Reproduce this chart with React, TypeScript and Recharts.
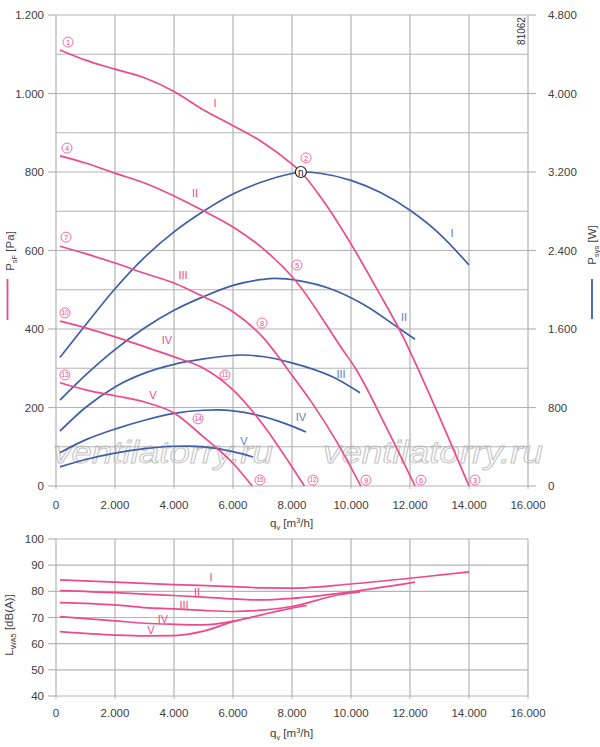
import React from 'react';
import { LineChart, Line, XAxis, YAxis, CartesianGrid, ReferenceDot } from 'recharts';

// axes
const qTicks = [0, 2000, 4000, 6000, 8000, 10000, 12000, 14000, 16000];
const qGrid = [0, 1000, 2000, 3000, 4000, 5000, 6000, 7000, 8000, 9000, 10000, 11000, 12000, 13000, 14000, 15000, 16000];
const pTicks = [0, 200, 400, 600, 800, 1000, 1200];
const pGrid = [0, 100, 200, 300, 400, 500, 600, 700, 800, 900, 1000, 1100, 1200];
const wTicks = [0, 800, 1600, 2400, 3200, 4000, 4800];
const lTicks = [40, 50, 60, 70, 80, 90, 100];

// static pressure psF [Pa]
const qPsf1 = [135, 1000, 2000, 3000, 4000, 5000, 6000, 7000, 8000, 8300, 9000, 10100, 10900, 11650, 12850, 14000];
const psf1 = [1111, 1085, 1062, 1040, 1005, 958, 918, 876, 820, 800, 733, 604, 499, 397, 201, 0];
const qPsf2 = [135, 1000, 2000, 3000, 4000, 5000, 6000, 7000, 8100, 9730, 10150, 11180, 12170];
const psf2 = [841, 823, 797, 772, 739, 701, 660, 606, 525, 346, 300, 152, 0];
const qPsf3 = [135, 1000, 2000, 3000, 4000, 5000, 6000, 7000, 8000, 8650, 9530, 10330];
const psf3 = [611, 592, 568, 542, 517, 482, 444, 380, 282, 215, 111, 0];
const qPsf4 = [135, 1000, 2000, 3000, 4000, 5000, 6000, 7000, 7900, 8420];
const psf4 = [420, 403, 380, 355, 329, 300, 245, 158, 60, 0];
const qPsf5 = [135, 1000, 2000, 3000, 4000, 5000, 6000, 6650];
const psf5 = [263, 245, 230, 214, 186, 125, 58, 0];

// power Psys [W]
const qPsys1 = [135, 1000, 2000, 3000, 4000, 5000, 6000, 7000, 8000, 8300, 9000, 10000, 11000, 12000, 13000, 14000];
const psys1 = [1310, 1640, 2010, 2330, 2590, 2800, 2975, 3100, 3185, 3200, 3185, 3115, 2990, 2810, 2570, 2252];
const qPsys2 = [135, 1000, 2000, 3000, 4000, 5000, 6000, 7000, 7400, 8270, 9390, 10540, 11660, 12170];
const psys2 = [876, 1130, 1390, 1610, 1790, 1930, 2045, 2105, 2115, 2090, 2000, 1830, 1600, 1495];
const qPsys3 = [135, 1000, 2000, 3000, 4000, 5000, 6000, 6300, 7000, 8000, 9390, 10305];
const psys3 = [560, 800, 1010, 1150, 1240, 1295, 1330, 1335, 1320, 1255, 1110, 950];
const qPsys4 = [135, 1000, 2000, 3000, 4000, 5000, 5500, 6000, 7000, 8000, 8475];
const psys4 = [340, 470, 580, 670, 740, 772, 775, 765, 710, 610, 550];
const qPsys5 = [135, 1000, 2000, 3000, 4000, 4500, 5000, 6000, 6678];
const psys5 = [195, 270, 335, 380, 405, 407, 398, 350, 296];

// sound power LWA5 [dB(A)]
const qL1 = [135, 2000, 4000, 6000, 7000, 8000, 10000, 12000, 14000];
const l1 = [84.4, 83.5, 82.6, 81.8, 81.3, 81.2, 82.8, 85.0, 87.4];
const qL2 = [135, 2000, 3000, 4000, 5000, 6000, 7000, 8000, 10000, 12170];
const l2 = [80.3, 79.5, 78.9, 78.4, 77.8, 77.1, 76.7, 77.3, 79.8, 83.5];
const qL3 = [135, 2000, 3000, 4000, 5000, 6000, 7000, 8000, 9600, 10305];
const l3 = [75.7, 74.8, 73.8, 73.3, 72.7, 72.3, 72.8, 74.2, 78.7, 79.8];
const qL4 = [135, 2000, 3000, 4000, 5000, 6000, 6700, 7000, 8000, 8500];
const l4 = [70.3, 68.7, 67.8, 67.4, 67.2, 68.6, 70.3, 71.1, 73.6, 74.6];
const qL5 = [135, 2000, 3000, 4000, 5000, 6000, 6700];
const l5 = [64.6, 63.3, 63.0, 63.1, 64.8, 68.4, 70.2];

// annotations
const psfNames = [
  { t: 'I', q: 5390, v: 976 }, { t: 'II', q: 4712, v: 746 }, { t: 'III', q: 4305, v: 538 },
  { t: 'IV', q: 3763, v: 372 }, { t: 'V', q: 3288, v: 232 },
];
const psysNames = [
  { t: 'I', q: 13424, v: 2578 }, { t: 'II', q: 11797, v: 1722 }, { t: 'III', q: 9661, v: 1141 },
  { t: 'IV', q: 8305, v: 703 }, { t: 'V', q: 6373, v: 459 },
];
const lNames = [
  { t: 'I', q: 5254, v: 85.6 }, { t: 'II', q: 4780, v: 79.8 }, { t: 'III', q: 4339, v: 74.8 },
  { t: 'IV', q: 3627, v: 69.5 }, { t: 'V', q: 3220, v: 65.3 },
];
const points = [
  { n: '1', q: 407, v: 1131 }, { n: '4', q: 373, v: 861 }, { n: '7', q: 339, v: 634 },
  { n: '10', q: 305, v: 441 }, { n: '13', q: 305, v: 283 },
  { n: '2', q: 8475, v: 836 }, { n: '5', q: 8169, v: 563 }, { n: '8', q: 6983, v: 415 },
  { n: '11', q: 5729, v: 283 }, { n: '14', q: 4814, v: 171 },
  { n: '3', q: 14203, v: 15 }, { n: '6', q: 12373, v: 15 }, { n: '9', q: 10508, v: 15 },
  { n: '12', q: 8712, v: 15 }, { n: '15', q: 6915, v: 15 },
];
const optimum = { q: 8300, v: 800 };

const PINK = '#ee4a8b';
const BLUE = '#3d5fa8';
const BLUE_TXT = '#5a7bc2';
const GRID = '#b4b4b4';
const TXT = '#404040';
const FONT = '"Liberation Sans", Arial, sans-serif';

const pts = (qs: number[], vs: number[]) => qs.map((q, i) => ({ q, v: vs[i] }));
const fmt = (v: number) =>
  v >= 1000 ? `${Math.floor(v / 1000)}.${String(v % 1000).padStart(3, '0')}` : `${v}`;

const tick = { fill: TXT, fontSize: 11.5, fontFamily: FONT };

const XTitle = (props: any) => {
  const y = props.viewBox.y + 41;
  return (
    <text x={270} y={y} fill={TXT} fontSize={11.5} fontFamily={FONT}>
      q<tspan fontSize={7.5} dy={3}>v</tspan>
      <tspan dy={-3}> [m</tspan>
      <tspan fontSize={7.5} dy={-4}>3</tspan>
      <tspan dy={4}>/h]</tspan>
    </text>
  );
};

const RotTitle = ({ x, y, main, sub, unit }: { x: number; y: number; main: string; sub: string; unit: string }) => (
  <text x={x} y={y} transform={`rotate(-90 ${x} ${y})`} textAnchor="middle" fill={TXT} fontSize={11.5} fontFamily={FONT}>
    {main}
    <tspan fontSize={7.5} dy={3}>{sub}</tspan>
    <tspan dy={-3}> {unit}</tspan>
  </text>
);

const LeftTitle = () => (
  <g>
    <RotTitle x={14} y={251} main="P" sub="sF" unit="[Pa]" />
    <line x1={7.5} x2={7.5} y1={279} y2={320} stroke={PINK} strokeWidth={1.8} />
  </g>
);

const RightTitle = () => (
  <g>
    <RotTitle x={596} y={245} main="P" sub="sys" unit="[W]" />
    <line x1={592} x2={592} y1={279} y2={319} stroke={BLUE} strokeWidth={1.8} />
    <text x={525} y={31} transform="rotate(-90 525 31)" textAnchor="middle" fill="#333" fontSize={10} fontFamily={FONT}>
      81062
    </text>
  </g>
);

const SoundTitle = () => <RotTitle x={13} y={95} main="L" sub="WA5" unit="[dB(A)]" />;

const line = (key: string, data: { q: number; v: number }[], color: string, yAxisId: string) => (
  <Line
    key={key}
    data={data}
    dataKey="v"
    yAxisId={yAxisId}
    type="monotone"
    stroke={color}
    strokeWidth={1.7}
    dot={false}
    isAnimationActive={false}
  />
);

const nameDot = (key: string, q: number, v: number, t: string, color: string, yAxisId: string) => (
  <ReferenceDot
    key={key}
    x={q}
    y={v}
    yAxisId={yAxisId}
    r={1}
    fill="none"
    stroke="none"
    label={{ value: t, position: 'center', fill: color, fontSize: 11, fontFamily: FONT }}
  />
);

export default function App() {
  return (
    <div style={{ position: 'absolute', left: 0, top: 0, width: 600, height: 747, background: '#fff', fontFamily: FONT }}>
      <svg width={600} height={530} style={{ position: 'absolute', left: 0, top: 0 }}>
        {[53, 323].map((x) => (
          <text key={x} x={x} y={463} fontSize={31} fontStyle="italic" fontFamily={FONT} fill="none" stroke="#c6c6c6" strokeWidth={1} textLength={220} lengthAdjust="spacingAndGlyphs">
            ventilatorry.ru
          </text>
        ))}
      </svg>

      <div style={{ position: 'absolute', left: 0, top: 0 }}>
        <LineChart width={600} height={536} margin={{ top: 15, right: 0, bottom: 6, left: 0 }}>
          <CartesianGrid yAxisId="p" stroke={GRID} strokeWidth={1.2} horizontalValues={pGrid} verticalValues={qGrid} />
          <XAxis
            type="number"
            dataKey="q"
            domain={[0, 16000]}
            ticks={qTicks}
            tickFormatter={fmt}
            height={44}
            axisLine={false}
            tickSize={3}
            tickMargin={12}
            tickLine={{ stroke: GRID }}
            tick={tick}
            label={<XTitle />}
            allowDataOverflow
          />
          <YAxis
            yAxisId="p"
            type="number"
            domain={[0, 1200]}
            ticks={pTicks}
            tickFormatter={fmt}
            width={56}
            axisLine={false}
            tickSize={8}
            tickMargin={4}
            tickLine={{ stroke: GRID, strokeWidth: 1.2 }}
            tick={tick}
            label={<LeftTitle />}
          />
          <YAxis
            yAxisId="w"
            orientation="right"
            type="number"
            domain={[0, 4800]}
            ticks={wTicks}
            tickFormatter={fmt}
            width={72}
            axisLine={false}
            tickSize={8}
            tickMargin={12}
            tickLine={{ stroke: GRID, strokeWidth: 1.2 }}
            tick={{ ...tick, textAnchor: 'start' }}
            label={<RightTitle />}
          />
          {line('b1', pts(qPsys1, psys1), BLUE, 'w')}
          {line('b2', pts(qPsys2, psys2), BLUE, 'w')}
          {line('b3', pts(qPsys3, psys3), BLUE, 'w')}
          {line('b4', pts(qPsys4, psys4), BLUE, 'w')}
          {line('b5', pts(qPsys5, psys5), BLUE, 'w')}
          {line('p1', pts(qPsf1, psf1), PINK, 'p')}
          {line('p2', pts(qPsf2, psf2), PINK, 'p')}
          {line('p3', pts(qPsf3, psf3), PINK, 'p')}
          {line('p4', pts(qPsf4, psf4), PINK, 'p')}
          {line('p5', pts(qPsf5, psf5), PINK, 'p')}
          {psfNames.map((d) => nameDot('pn' + d.t, d.q, d.v, d.t, PINK, 'p'))}
          {psysNames.map((d) => nameDot('wn' + d.t, d.q, d.v, d.t, BLUE_TXT, 'w'))}
          {points.map((d) => (
            <ReferenceDot
              key={'c' + d.n}
              x={d.q}
              y={d.v}
              yAxisId="p"
              r={5}
              fill="#fff"
              stroke={PINK}
              strokeWidth={0.8}
              label={{ value: d.n, position: 'center', fill: PINK, fontSize: d.n.length > 1 ? 6.5 : 7.5, fontFamily: FONT }}
            />
          ))}
          <ReferenceDot
            x={optimum.q}
            y={optimum.v}
            yAxisId="p"
            r={5.5}
            fill="#fff"
            stroke="#222"
            strokeWidth={1.2}
            label={{ value: 'n', position: 'center', fill: '#222', fontSize: 10, fontFamily: FONT }}
          />
        </LineChart>
      </div>

      <div style={{ position: 'absolute', left: 0, top: 530 }}>
        <LineChart width={600} height={217} margin={{ top: 9, right: 72, bottom: 0, left: 0 }}>
          <CartesianGrid yAxisId="l" stroke={GRID} strokeWidth={1.2} horizontalValues={lTicks} verticalValues={qGrid} />
          <XAxis
            type="number"
            dataKey="q"
            domain={[0, 16000]}
            ticks={qTicks}
            tickFormatter={fmt}
            height={51}
            axisLine={false}
            tickSize={3}
            tickMargin={10}
            tickLine={{ stroke: GRID }}
            tick={tick}
            label={<XTitle />}
          />
          <YAxis
            yAxisId="l"
            type="number"
            domain={[40, 100]}
            ticks={lTicks}
            width={56}
            axisLine={false}
            tickSize={8}
            tickMargin={4}
            tickLine={{ stroke: GRID, strokeWidth: 1.2 }}
            tick={tick}
            label={<SoundTitle />}
          />
          {line('l1', pts(qL1, l1), PINK, 'l')}
          {line('l2', pts(qL2, l2), PINK, 'l')}
          {line('l3', pts(qL3, l3), PINK, 'l')}
          {line('l4', pts(qL4, l4), PINK, 'l')}
          {line('l5', pts(qL5, l5), PINK, 'l')}
          {lNames.map((d) => nameDot('ln' + d.t, d.q, d.v, d.t, PINK, 'l'))}
        </LineChart>
      </div>
    </div>
  );
}
